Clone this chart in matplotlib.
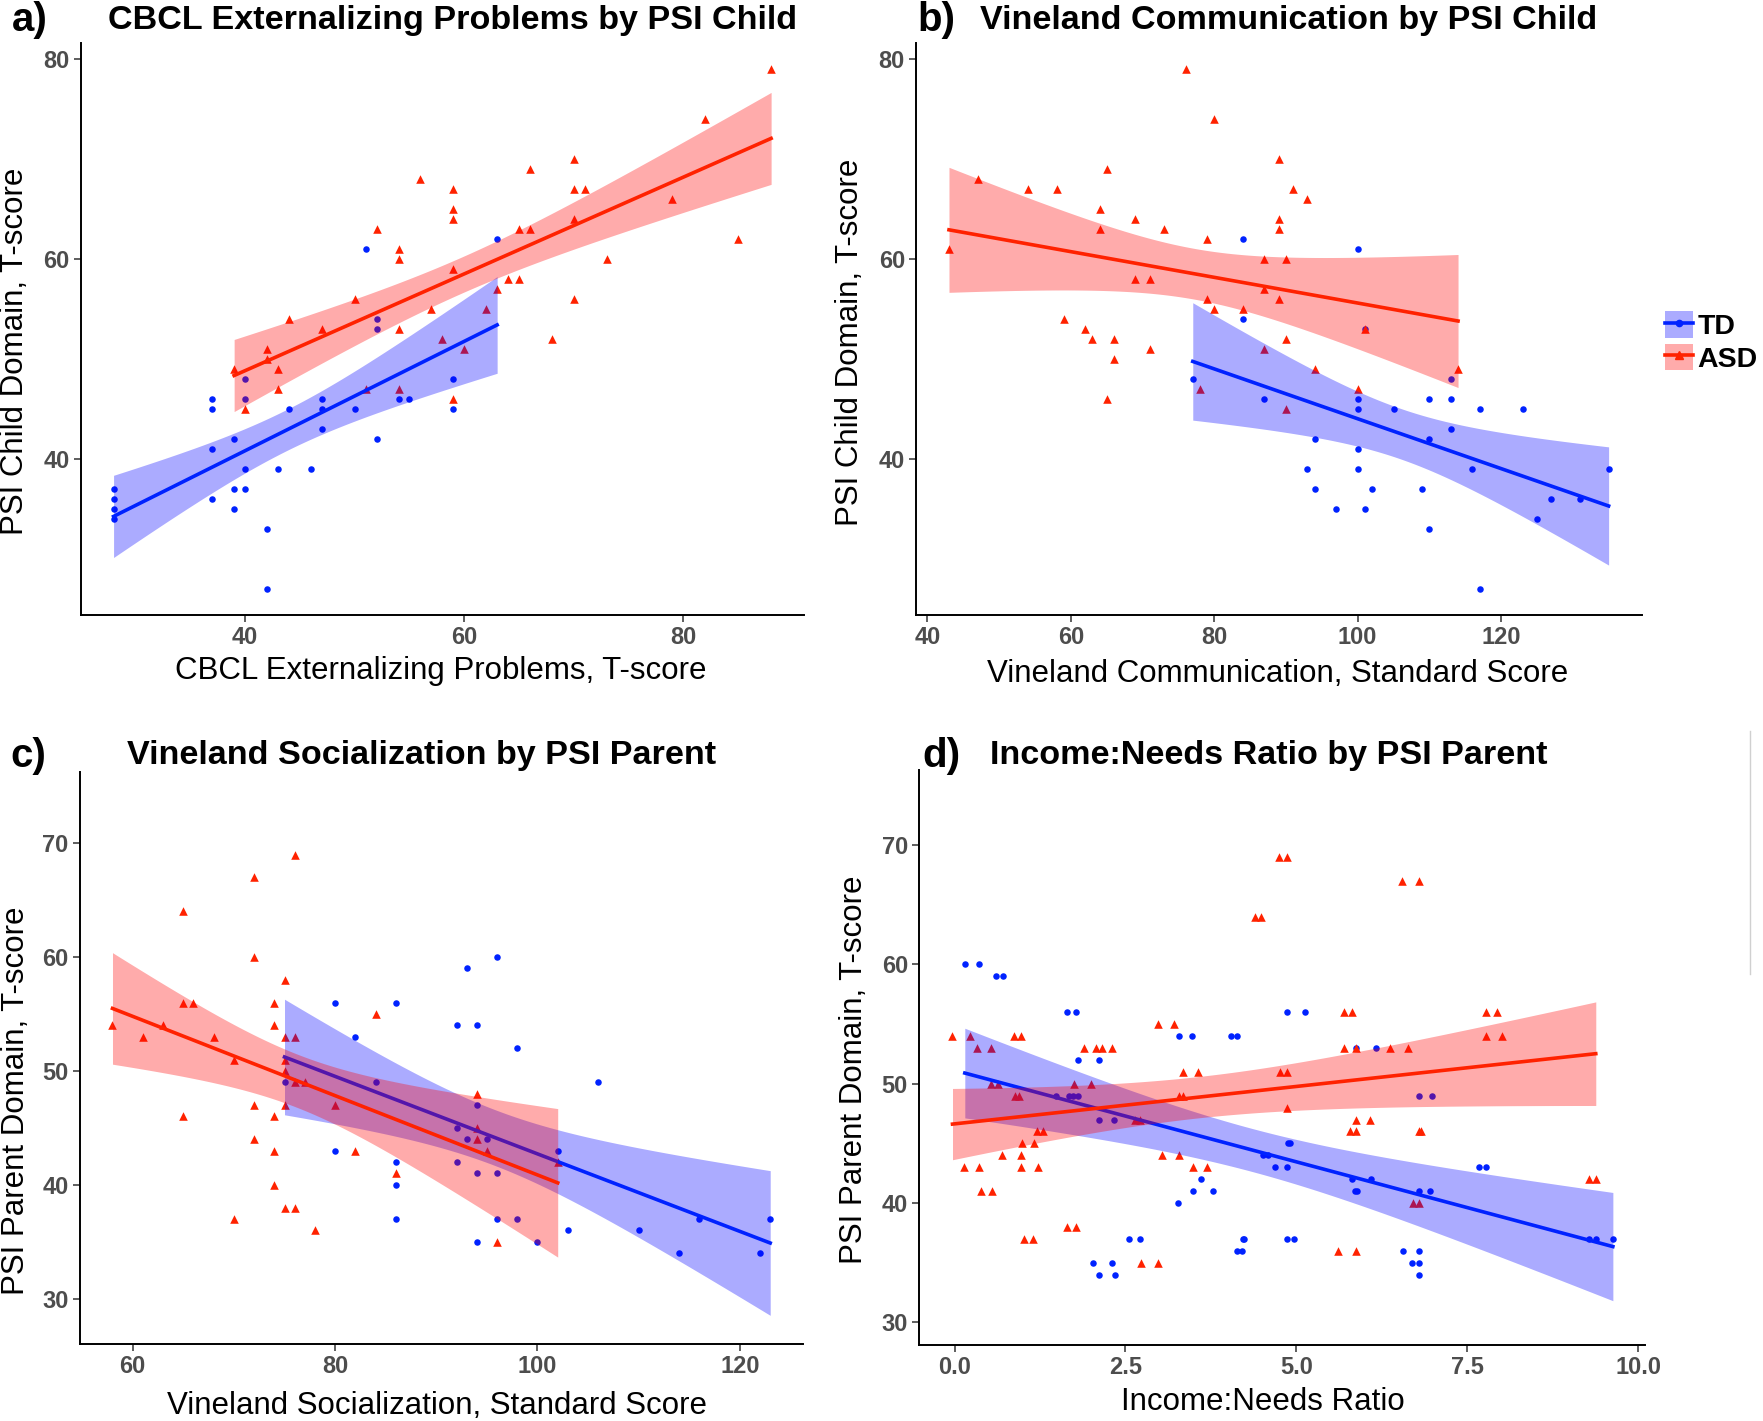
import numpy as np
import matplotlib
matplotlib.use("Agg")
import matplotlib.pyplot as plt
from matplotlib.lines import Line2D
from matplotlib.patches import Patch

plt.rcParams["font.family"] = ["Liberation Sans", "DejaVu Sans"]

# colours (TD = blue circles, ASD = red triangles)
BLUE = "#0022ff"
RED = "#ff2200"
FILL_BLUE = "#0000ff"
FILL_RED = "#ff0000"
TICK_GREY = "#4d4d4d"

# a) CBCL Externalizing Problems vs PSI Child
a_td_x = [28, 28, 28, 28, 37, 37, 37, 37, 39, 39, 39, 40, 40, 40, 40, 42, 42,
          43, 44, 46, 47, 47, 47, 50, 51, 52, 52, 52, 54, 55, 59, 59, 63]
a_td_y = [37, 36, 35, 34, 46, 45, 41, 36, 42, 37, 35, 39, 37, 48, 46, 33, 27,
          39, 45, 39, 46, 45, 43, 45, 61, 42, 54, 53, 46, 46, 48, 45, 62]
a_asd_x = [56, 59, 59, 59, 52, 54, 54, 59, 63, 50, 57, 62, 44, 47, 54, 58, 60,
           42, 42, 39, 43, 43, 51, 54, 40, 59, 66, 70, 70, 71, 70, 65, 66, 64,
           65, 70, 68, 73, 79, 82, 85, 88]
a_asd_y = [68, 67, 65, 64, 63, 61, 60, 59, 57, 56, 55, 55, 54, 53, 53, 52, 51,
           51, 50, 49, 49, 47, 47, 47, 45, 46, 69, 70, 67, 67, 64, 63, 63, 58,
           58, 56, 52, 60, 66, 74, 62, 79]

# b) Vineland Communication vs PSI Child
b_td_x = [84, 84, 77, 87, 94, 93, 94, 100, 100, 100, 105, 110, 113, 113, 117,
          123, 113, 110, 100, 100, 116, 135, 102, 109, 127, 131, 97, 101, 125,
          110, 117, 101]
b_td_y = [62, 54, 48, 46, 42, 39, 37, 61, 46, 45, 45, 46, 46, 48, 45, 45, 43,
          42, 41, 39, 39, 39, 37, 37, 36, 36, 35, 35, 34, 33, 27, 53]
b_asd_x = [43, 47, 54, 58, 65, 64, 64, 69, 73, 76, 80, 79, 89, 91, 93, 89, 89,
           87, 90, 69, 71, 87, 79, 89, 80, 84, 59, 62, 63, 66, 90, 71, 87, 66,
           94, 78, 65, 90, 100, 101, 114]
b_asd_y = [61, 68, 67, 67, 69, 65, 63, 64, 63, 79, 74, 62, 70, 67, 66, 64, 63,
           60, 60, 58, 58, 57, 56, 56, 55, 55, 54, 53, 52, 52, 52, 51, 51, 50,
           49, 47, 46, 45, 47, 53, 49]

# c) Vineland Socialization vs PSI Parent
c_td_x = [75, 80, 82, 84, 86, 80, 86, 86, 86, 92, 94, 93, 92, 93, 92, 94, 94,
          94, 95, 96, 98, 106, 96, 102, 96, 98, 100, 103, 110, 116, 123, 114, 122]
c_td_y = [49, 56, 53, 49, 56, 43, 42, 40, 37, 54, 54, 59, 45, 44, 42, 47, 41,
          35, 44, 60, 52, 49, 41, 43, 37, 37, 35, 36, 36, 37, 37, 34, 34]
c_asd_x = [58, 61, 63, 65, 65, 66, 68, 65, 70, 70, 72, 72, 72, 72, 74, 74, 74,
           74, 74, 75, 75, 75, 75, 75, 75, 76, 76, 76, 76, 77, 78, 80, 82, 84,
           86, 94, 94, 94, 95, 96, 102]
c_asd_y = [54, 53, 54, 64, 56, 56, 53, 46, 51, 37, 67, 60, 47, 44, 56, 54, 46,
           43, 40, 58, 53, 51, 50, 47, 38, 69, 53, 49, 38, 49, 36, 47, 43, 55,
           41, 48, 45, 44, 43, 35, 42]

# d) Income:Needs ratio vs PSI Parent (x values as jittered in the figure)
d_td_x = [0.15, 0.36, 0.60, 0.71, 1.64, 1.77, 1.81, 2.11, 1.49, 1.68, 1.73,
          1.80, 2.11, 2.33, 3.28, 3.48, 4.04, 4.13, 4.51, 4.59, 4.69, 3.61,
          3.49, 3.78, 3.27, 2.55, 2.72, 2.02, 2.31, 2.11, 2.35, 4.13, 4.20,
          4.22, 4.24, 4.86, 5.12, 4.88, 4.90, 4.86, 5.81, 6.09, 5.86, 5.89,
          6.80, 6.95, 6.16, 6.80, 6.98, 7.67, 7.77, 4.86, 4.97, 6.56, 6.80,
          6.69, 6.80, 6.80, 9.28, 9.38, 9.63, 5.87]
d_td_y = [60, 60, 59, 59, 56, 56, 52, 52, 49, 49, 49, 49, 47, 47, 54, 54, 54,
          54, 44, 44, 43, 42, 41, 41, 40, 37, 37, 35, 35, 34, 34, 36, 36, 37,
          37, 56, 56, 45, 45, 43, 42, 42, 41, 41, 41, 41, 53, 49, 49, 43, 43,
          37, 37, 36, 36, 35, 35, 34, 37, 37, 37, 53]
d_asd_x = [-0.03, 0.23, 0.33, 0.54, 0.87, 0.97, 0.54, 0.64, 0.89, 0.95, 0.14,
           0.36, 0.39, 0.55, 0.69, 0.97, 0.99, 1.16, 1.20, 1.30, 0.97, 1.22,
           1.01, 1.15, 1.64, 1.78, 1.90, 2.07, 2.16, 2.31, 1.75, 2.00, 2.64,
           2.72, 2.98, 3.21, 3.34, 3.56, 3.28, 3.34, 3.04, 3.28, 3.49, 3.70,
           2.73, 2.98, 4.39, 4.49, 4.74, 4.86, 6.55, 6.80, 5.69, 5.81, 7.77,
           7.93, 7.77, 8.01, 5.69, 5.87, 6.37, 6.63, 4.76, 4.86, 4.86, 5.87,
           6.08, 5.78, 5.87, 6.80, 6.82, 6.70, 6.80, 9.28, 9.38, 5.61, 5.87]
d_asd_y = [54, 54, 53, 53, 54, 54, 50, 50, 49, 49, 43, 43, 41, 41, 44, 44, 45,
           45, 46, 46, 43, 43, 37, 37, 38, 38, 53, 53, 53, 53, 50, 50, 47, 47,
           55, 55, 51, 51, 49, 49, 44, 44, 43, 43, 35, 35, 64, 64, 69, 69, 67,
           67, 56, 56, 56, 56, 54, 54, 53, 53, 53, 53, 51, 51, 48, 47, 47, 46,
           46, 46, 46, 40, 40, 42, 42, 36, 36]


def smooth_band(x, y, n=100):
    """Linear fit with a 95% confidence band, like geom_smooth(method='lm')."""
    x = np.asarray(x, float)
    y = np.asarray(y, float)
    slope, icpt = np.polyfit(x, y, 1)
    xs = np.linspace(x.min(), x.max(), n)
    fit = icpt + slope * xs
    df = len(x) - 2
    s = np.sqrt(np.sum((y - (icpt + slope * x)) ** 2) / df)
    sxx = np.sum((x - x.mean()) ** 2)
    se = s * np.sqrt(1 / len(x) + (xs - x.mean()) ** 2 / sxx)
    z = 1.959964
    t = z + (z ** 3 + z) / (4 * df) + (5 * z ** 5 + 16 * z ** 3 + 3 * z) / (96 * df ** 2)
    return xs, fit, fit - t * se, fit + t * se


def draw_panel(ax, td_x, td_y, asd_x, asd_y, xlim, ylim, xticks, yticks, xfmt="{:g}"):
    ax.scatter(td_x, td_y, s=22, marker="o", color=BLUE, linewidths=0, zorder=2)
    ax.scatter(asd_x, asd_y, s=38, marker="^", color=RED, linewidths=0, zorder=2)
    for x, y, col, fcol in [(td_x, td_y, BLUE, FILL_BLUE), (asd_x, asd_y, RED, FILL_RED)]:
        xs, fit, lo, hi = smooth_band(x, y)
        ax.fill_between(xs, lo, hi, color=fcol, alpha=0.33, linewidth=0, zorder=3)
        ax.plot(xs, fit, color=col, lw=2.6, zorder=3)
    ax.set_xlim(*xlim)
    ax.set_ylim(*ylim)
    ax.set_xticks(xticks)
    ax.set_xticklabels([xfmt.format(v) for v in xticks])
    ax.set_yticks(yticks)
    for side in ["top", "right"]:
        ax.spines[side].set_visible(False)
    for side in ["left", "bottom"]:
        ax.spines[side].set_linewidth(1.4)
    ax.tick_params(length=5, width=1.1, color="#333333", labelcolor=TICK_GREY,
                   labelsize=17, pad=3)
    for lab in ax.get_xticklabels() + ax.get_yticklabels():
        lab.set_fontweight("bold")


W, H = 1763, 1421
fig = plt.figure(figsize=(W / 100, H / 100), dpi=100)


def px_axes(left, top, right, bottom):
    return fig.add_axes([left / W, 1 - bottom / H, (right - left) / W, (bottom - top) / H])


ax_a = px_axes(80.7, 42.5, 804, 614.8)
ax_b = px_axes(916, 42.5, 1641.6, 614.8)
ax_c = px_axes(79.6, 772.5, 803.1, 1344.3)
ax_d = px_axes(919, 770, 1645, 1345)

draw_panel(ax_a, a_td_x, a_td_y, a_asd_x, a_asd_y, (25, 91), (24.4, 81.6),
           [40, 60, 80], [40, 60, 80])
draw_panel(ax_b, b_td_x, b_td_y, b_asd_x, b_asd_y, (38.4, 139.6), (24.4, 81.6),
           [40, 60, 80, 100, 120], [40, 60, 80])
draw_panel(ax_c, c_td_x, c_td_y, c_asd_x, c_asd_y, (54.75, 126.25), (26.0, 76.2),
           [60, 80, 100, 120], [30, 40, 50, 60, 70])
draw_panel(ax_d, d_td_x, d_td_y, d_asd_x, d_asd_y, (-0.52, 10.1), (28.1, 76.3),
           [0, 2.5, 5, 7.5, 10], [30, 40, 50, 60, 70], xfmt="{:.1f}")

panels = [
    (ax_a, "a)", "CBCL Externalizing Problems by PSI Child",
     "CBCL Externalizing Problems, T-score", "PSI Child Domain, T-score",
     (29.8, 20), (453, 20), (441, 671), (14.6, 351)),
    (ax_b, "b)", "Vineland Communication by PSI Child",
     "Vineland Communication, Standard Score", "PSI Child Domain, T-score",
     (936.6, 20), (1289, 20), (1278, 673.5), (850, 342)),
    (ax_c, "c)", "Vineland Socialization by PSI Parent",
     "Vineland Socialization, Standard Score", "PSI Parent Domain, T-score",
     (28.7, 755.6), (421.6, 755.6), (437, 1405.5), (16.3, 1101)),
    (ax_d, "d)", "Income:Needs Ratio by PSI Parent",
     "Income:Needs Ratio", "PSI Parent Domain, T-score",
     (941.7, 755.6), (1269, 755.6), (1263, 1402), (854.5, 1070)),
]

for ax, tag, title, xlab, ylab, tag_xy, title_xy, xlab_xy, ylab_xy in panels:
    fig.text(tag_xy[0] / W, 1 - tag_xy[1] / H, tag, fontsize=29, fontweight="bold",
             ha="center", va="center")
    fig.text(title_xy[0] / W, 1 - title_xy[1] / H, title, fontsize=24.6,
             fontweight="bold", ha="center", va="center")
    ax.set_xlabel(xlab, fontsize=22.5, va="center", ha="center")
    ax.xaxis.set_label_coords(xlab_xy[0] / W, 1 - xlab_xy[1] / H, transform=fig.transFigure)
    ax.set_ylabel(ylab, fontsize=22.5, va="center", ha="center")
    ax.yaxis.set_label_coords(ylab_xy[0] / W, 1 - ylab_xy[1] / H, transform=fig.transFigure)

# legend
handles = [
    (Patch(facecolor=FILL_BLUE, alpha=0.33, linewidth=0),
     Line2D([], [], color=BLUE, lw=2.6, marker="o", markersize=4.5)),
    (Patch(facecolor=FILL_RED, alpha=0.33, linewidth=0),
     Line2D([], [], color=RED, lw=2.6, marker="^", markersize=5.5)),
]
fig.legend(handles, ["TD", "ASD"], loc="center left",
           bbox_to_anchor=(1665 / W, 1 - 342 / H), frameon=False,
           handlelength=1.0, handleheight=1.05, handletextpad=0.15,
           labelspacing=0.12, borderpad=0, borderaxespad=0,
           prop={"weight": "bold", "size": 20.5})

# thin grey edge line at the right of the lower half
fig.add_artist(Line2D([1749.6 / W, 1749.6 / W], [1 - 731 / H, 1 - 974 / H],
                      transform=fig.transFigure, color="#d0d0d0", lw=1))

fig.savefig("out.png", dpi=100)
